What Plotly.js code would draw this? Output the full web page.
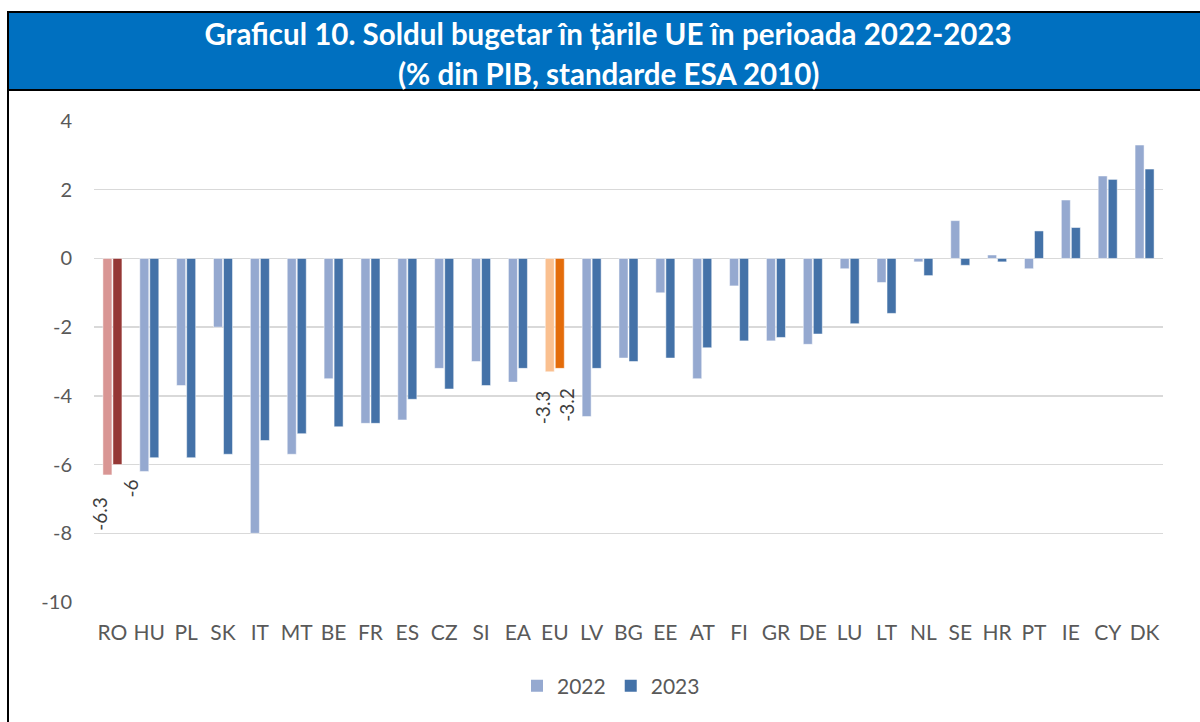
<!DOCTYPE html>
<html>
<head>
<meta charset="utf-8">
<script src="https://cdn.plot.ly/plotly-3.0.1.min.js"></script>
<style>html,body{margin:0;padding:0;background:#fff;}#chart{width:1200px;height:722px;}</style>
</head>
<body>
<div id="chart"></div>
<script>
const countries = ["RO","HU","PL","SK","IT","MT","BE","FR","ES","CZ","SI","EA","EU","LV","BG","EE","AT","FI","GR","DE","LU","LT","NL","SE","HR","PT","IE","CY","DK"];
const values2022 = [-6.3,-6.2,-3.7,-2.0,-8.0,-5.7,-3.5,-4.8,-4.7,-3.2,-3.0,-3.6,-3.3,-4.6,-2.9,-1.0,-3.5,-0.8,-2.4,-2.5,-0.3,-0.7,-0.1,1.1,0.1,-0.3,1.7,2.4,3.3];
const values2023 = [-6.0,-5.8,-5.8,-5.7,-5.3,-5.1,-4.9,-4.8,-4.1,-3.8,-3.7,-3.2,-3.2,-3.2,-3.0,-2.9,-2.6,-2.4,-2.3,-2.2,-1.9,-1.6,-0.5,-0.2,-0.1,0.8,0.9,2.3,2.6];
const seriesNames = ["2022","2023"];
const yTicks = [4,2,0,-2,-4,-6,-8,-10];
const labeledCountries = ["RO","EU"];

const C22 = "#95a9d0", C23 = "#4472a8";
const special = {RO:["#d99694","#953735"], EU:["#fac090","#e46c0a"]};
const col22 = countries.map(c => special[c] ? special[c][0] : C22);
const col23 = countries.map(c => special[c] ? special[c][1] : C23);

const traces = [
  {type:"bar", x:countries, y:values2022, marker:{color:col22, line:{color:"#ffffff", width:0.5}}, offsetgroup:"a", showlegend:false, hoverinfo:"x+y"},
  {type:"bar", x:countries, y:values2023, marker:{color:col23, line:{color:"#ffffff", width:0.5}}, offsetgroup:"b", showlegend:false, hoverinfo:"x+y"},
  {type:"bar", x:[countries[0]], y:[null], name:seriesNames[0], marker:{color:C22}, offsetgroup:"a"},
  {type:"bar", x:[countries[0]], y:[null], name:seriesNames[1], marker:{color:C23}, offsetgroup:"b"}
];

// pixel helpers for frame shapes
const L=94, R=37, T=121, B=120, W=1200-L-R, H=722-T-B;
const px = v => (v-L)/W, py = v => (722-B-v)/H;

const annFont = {family:"Lato, sans-serif", size:19, color:"#404040"};
const labelShifts = {RO:[[-12.5,-39],[18.5,-24]], EU:[[-12.4,-35],[11.6,-36]]};
const annotations = [];
labeledCountries.forEach(c => {
  const i = countries.indexOf(c);
  [values2022[i], values2023[i]].forEach((v,k) => {
    annotations.push({x:c, y:v, xref:"x", yref:"y", text:String(v), showarrow:false, textangle:-90,
      xanchor:"center", yanchor:"middle", xshift:labelShifts[c][k][0], yshift:labelShifts[c][k][1], font:annFont});
  });
});
annotations.push({xref:"paper", yref:"paper", x:px(608), y:py(73), text:"<b>(% din PIB, standarde ESA 2010)</b>",
  showarrow:false, xanchor:"center", yanchor:"middle", font:{family:"Lato, sans-serif", size:29.5, color:"#ffffff"}});

const layout = {
  width:1200, height:722,
  margin:{l:L, r:R, t:T, b:B, pad:0, autoexpand:false},
  paper_bgcolor:"#ffffff", plot_bgcolor:"#ffffff",
  title:{text:"<b>Graficul 10. Soldul bugetar în țările UE în perioada 2022-2023</b>", x:px(608), xref:"paper", xanchor:"center",
    yref:"container", y:1-35/722, yanchor:"middle", font:{family:"Lato, sans-serif", size:29.5, color:"#ffffff"}, automargin:false},
  barmode:"group", bargap:0.457, bargroupgap:0.1,
  xaxis:{type:"category", range:[-0.5, countries.length-0.5], autorange:false, automargin:false,
    tickfont:{family:"Lato, sans-serif", size:21, color:"#595959"}, showgrid:false, zeroline:false,
    showline:false, ticks:"outside", ticklen:12, tickcolor:"rgba(0,0,0,0)", fixedrange:true},
  yaxis:{range:[-10,4], autorange:false, automargin:false, tickvals:yTicks, ticktext:yTicks.map(String),
    tickfont:{family:"Lato, sans-serif", size:20, color:"#595959"},
    showgrid:true, gridcolor:"#d9d9d9", gridwidth:1.5, zeroline:true, zerolinecolor:"#d9d9d9", zerolinewidth:1.5,
    showline:false, ticks:"outside", ticklen:17, tickcolor:"rgba(0,0,0,0)", fixedrange:true},
  legend:{orientation:"h", x:px(611), xanchor:"center", y:py(686), yanchor:"middle", font:{family:"Lato, sans-serif", size:21, color:"#595959"},
    itemwidth:30, traceorder:"normal"},
  shapes:[
    {type:"rect", xref:"paper", yref:"paper", x0:px(8), x1:px(1210), y0:py(12), y1:py(740), line:{color:"#000000", width:2}, fillcolor:"rgba(0,0,0,0)", layer:"above"},
    {type:"rect", xref:"paper", yref:"paper", x0:px(8), x1:px(1210), y0:py(12), y1:py(90), line:{color:"#000000", width:2}, fillcolor:"#0070c0", layer:"below"}
  ],
  annotations:annotations,
  showlegend:true
};

Plotly.newPlot("chart", traces, layout, {displayModeBar:false, staticPlot:true});
</script>
</body>
</html>
